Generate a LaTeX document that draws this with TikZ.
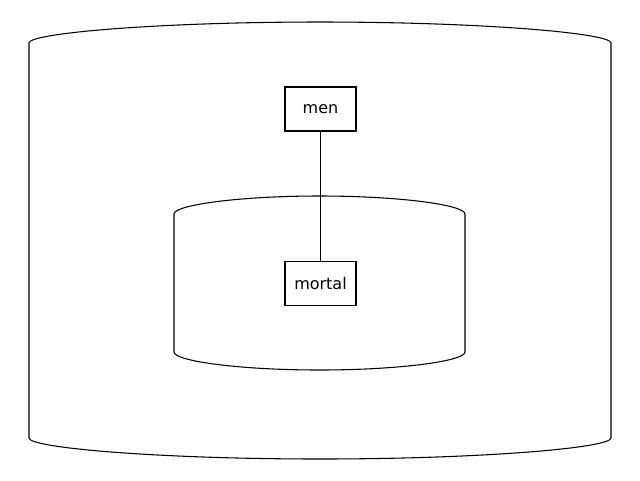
\documentclass[tikz,border=0pt]{standalone}
\usepackage{fontspec}
\setmainfont{DejaVu Sans}
\begin{document}
\begin{tikzpicture}[x=0.75pt,y=-0.75pt,line width=0.8pt,
  box/.style={draw,rectangle,minimum width=71*0.75pt,minimum height=44*0.75pt,inner sep=0pt,font=\fontsize{12}{14}\selectfont}]
\useasboundingbox (0,0) rectangle (640,480);
% outer cylinder
\draw (611,43) .. controls (611,33) and (480,22) .. (320,22)
  .. controls (160,22) and (29,33) .. (29,43)
  -- (29,438) .. controls (29,448) and (160,459) .. (320,459)
  .. controls (480,459) and (611,448) .. (611,438) -- cycle;
% inner cylinder
\draw (465,214) .. controls (465,205) and (400,196) .. (319.5,196)
  .. controls (239,196) and (174,205) .. (174,214)
  -- (174,352) .. controls (174,361) and (239,370) .. (319.5,370)
  .. controls (400,370) and (465,361) .. (465,352) -- cycle;
\node[box] (men) at (320.5,109) {men};
\node[box] (mortal) at (320.5,283.5) {mortal};
\draw (men) -- (mortal);
\end{tikzpicture}
\end{document}
